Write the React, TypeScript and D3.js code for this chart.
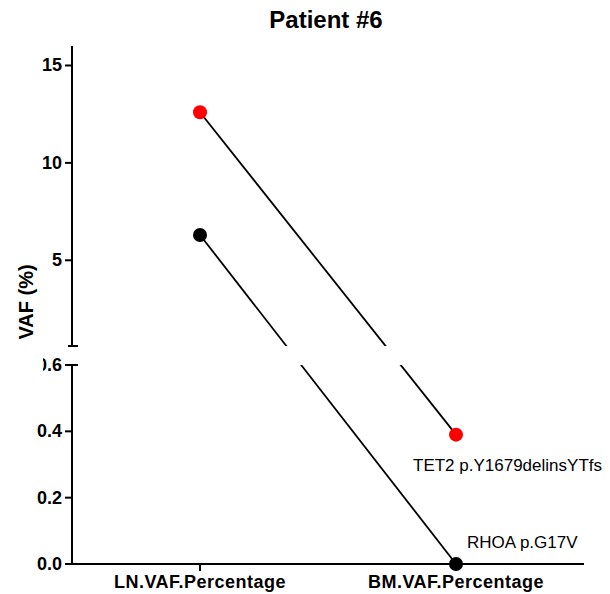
import * as d3 from 'd3'
import React from 'react'

const title = 'Patient #6'
const categories = ['LN.VAF.Percentage', 'BM.VAF.Percentage']
const mutations = ['TET2 p.Y1679delinsYTfs', 'RHOA p.G17V']
const lnValues = [12.6, 6.3]
const bmValues = [0.39, 0]
const colors = ['#ff0000', '#000000']
const topTicks = [5, 10, 15]
const bottomTicks = [0, 0.2, 0.4, 0.6]
const breakValue = 0.6
const topMax = 16

const W = 610
const H = 594
const font = "'Liberation Sans', Arial, sans-serif"

export default function App() {
  const axisX = 72
  const x = d3.scaleBand<string>().domain(categories).range([axisX, 584])
  const cx = (c: string) => (x(c) || 0) + x.bandwidth() / 2

  // broken y axis: two segments
  const yTop = d3.scaleLinear().domain([breakValue, topMax]).range([346, 46])
  const yBot = d3.scaleLinear().domain([0, breakValue]).range([564, 365])
  const y = (v: number) => (v >= breakValue ? yTop(v) : yBot(v))

  const line = d3
    .line<[string, number]>()
    .x((d) => cx(d[0]))
    .y((d) => y(d[1]))

  // label offsets relative to the BM point
  const labelOffsets = [
    [-43, 36],
    [11, -16]
  ]

  return (
    <div style={{ position: 'absolute', left: 0, top: 0 }}>
      <svg width={W} height={H} style={{ display: 'block', background: '#fff' }} fontFamily={font}>
        <defs>
          <clipPath id='segments'>
            <rect x={0} y={0} width={W} height={yTop.range()[0]} />
            <rect x={0} y={yBot.range()[1]} width={W} height={H - yBot.range()[1]} />
          </clipPath>
          <clipPath id='clip06'>
            <rect x={43} y={0} width={W} height={H} />
          </clipPath>
        </defs>

        <text x={326} y={28} textAnchor='middle' fontSize={24} fontWeight='bold'>
          {title}
        </text>

        {/* axes */}
        <g stroke='#000' strokeWidth={2}>
          <line x1={axisX} x2={axisX} y1={yTop.range()[1]} y2={yTop.range()[0]} />
          <line x1={axisX - 4} x2={axisX + 6} y1={yTop.range()[0]} y2={yTop.range()[0]} />
          {topTicks.map((t) => (
            <line key={t} x1={axisX - 7} x2={axisX} y1={yTop(t)} y2={yTop(t)} />
          ))}
          <line x1={axisX} x2={axisX} y1={yBot.range()[1]} y2={yBot.range()[0]} />
          {bottomTicks.map((t) => (
            <line key={t} x1={axisX - 7} x2={axisX + (t === breakValue ? 6 : 0)} y1={yBot(t)} y2={yBot(t)} />
          ))}
          <line x1={axisX - 1} x2={584} y1={yBot(0)} y2={yBot(0)} />
          {categories.map((c) => (
            <line key={c} x1={cx(c)} x2={cx(c)} y1={yBot(0)} y2={yBot(0) + 7} />
          ))}
        </g>

        <g fontSize={18} fontWeight='bold' textAnchor='end'>
          {topTicks.map((t) => (
            <text key={t} x={62} y={yTop(t) + 6}>
              {d3.format('d')(t)}
            </text>
          ))}
          {bottomTicks.map((t) => (
            <text
              key={t}
              x={62}
              y={yBot(t) + 6}
              clipPath={t === breakValue ? 'url(#clip06)' : undefined}
            >
              {d3.format('.1f')(t)}
            </text>
          ))}
        </g>

        <text
          transform={`translate(33,302) rotate(-90)`}
          textAnchor='middle'
          fontSize={20}
          fontWeight='bold'
        >
          VAF (%)
        </text>

        <g fontSize={18} fontWeight='bold' textAnchor='middle' letterSpacing={0.5}>
          {categories.map((c) => (
            <text key={c} x={cx(c)} y={588}>
              {c}
            </text>
          ))}
        </g>

        {/* connecting lines, hidden inside the axis break */}
        <g clipPath='url(#segments)'>
          {mutations.map((m, i) => (
            <path
              key={m}
              d={line([
                [categories[0], lnValues[i]],
                [categories[1], bmValues[i]]
              ]) || ''}
              fill='none'
              stroke='#000'
              strokeWidth={1.8}
            />
          ))}
        </g>

        {mutations.map((m, i) => (
          <g key={m} fill={colors[i]}>
            <circle cx={cx(categories[0])} cy={y(lnValues[i])} r={7} />
            <circle cx={cx(categories[1])} cy={y(bmValues[i])} r={7} />
          </g>
        ))}

        <g fontSize={17}>
          {mutations.map((m, i) => (
            <text
              key={m}
              x={cx(categories[1]) + labelOffsets[i][0]}
              y={y(bmValues[i]) + labelOffsets[i][1]}
            >
              {m}
            </text>
          ))}
        </g>
      </svg>
    </div>
  )
}
